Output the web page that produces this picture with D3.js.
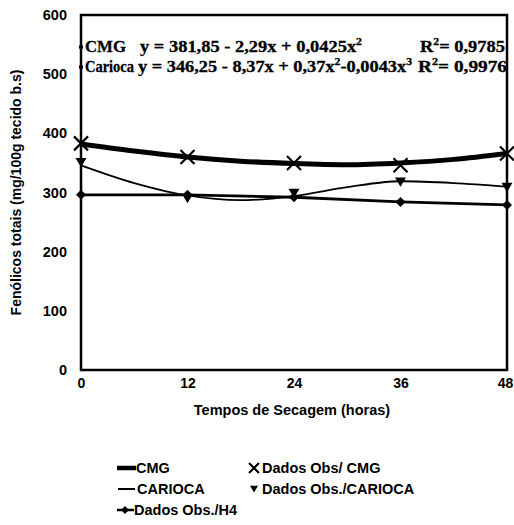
<!DOCTYPE html>
<html><head><meta charset="utf-8">
<script src="https://cdn.jsdelivr.net/npm/d3@7"></script>
<style>body{margin:0;background:#fff}svg{display:block}</style>
</head><body><svg id="c" width="514" height="525"></svg>
<script>
const xTicks = [0, 12, 24, 36, 48];
const yTicks = [0, 100, 200, 300, 400, 500, 600];
const obsCMG = [383, 360, 350, 346, 366];
const obsCarioca = [351, 290, 299, 318, 309];
const obsH4 = [296, 296, 292, 284, 279];
const fitX = [0, 6, 12, 18, 24, 30, 36, 42, 48];
const fitCMG = [382, 370, 360, 353, 349, 347, 350, 356, 366];
const fitCarioca = [346, 316, 295, 287, 294, 309, 319, 316, 310];
const labCMG = "CMG", labCarioca = "Carioca";
const eqCMG = ["y = 381,85 - 2,29x + 0,0425x", "2"];
const eqCarioca = ["y = 346,25 - 8,37x + 0,37x", "2", "-0,0043x", "3"];
const r2CMG = ["R", "2", "= 0,9785"];
const r2Carioca = ["R", "2", "= 0,9976"];
const legendItems = ["CMG", "CARIOCA", "Dados Obs./H4", "Dados Obs/ CMG", "Dados Obs./CARIOCA"];
const xTitle = "Tempos de Secagem (horas)";
const yTitle = "Fenólicos totais (mg/100g tecido b.s)";

const svg = d3.select("#c");
const L = 81, R = 507, T = 15, B = 370;
const x = d3.scaleLinear().domain([0, 48]).range([L, R]);
const y = d3.scaleLinear().domain([0, 600]).range([B, T]);
const sans = "'Liberation Sans', Arial, sans-serif";
const serif = "'Liberation Serif', 'Times New Roman', serif";

// frame
svg.append("rect").attr("x", L).attr("y", T).attr("width", R - L).attr("height", B - T)
  .attr("fill", "none").attr("stroke", "#000").attr("stroke-width", 2.5);

// axes labels
const gy = svg.append("g").attr("transform", `translate(${L},0)`)
  .call(d3.axisLeft(y).tickValues(yTicks).tickSize(0).tickPadding(14).tickFormat(d3.format("d")));
gy.select(".domain").remove();
gy.selectAll("text").attr("font-family", sans).attr("font-weight", "bold").attr("font-size", 14.5).attr("fill", "#000");
const gx = svg.append("g").attr("transform", `translate(0,${B})`)
  .call(d3.axisBottom(x).tickValues(xTicks).tickSize(0).tickPadding(8).tickFormat(d3.format("d")));
gx.select(".domain").remove();
gx.selectAll("text").attr("font-family", sans).attr("font-weight", "bold").attr("font-size", 14).attr("fill", "#000")
  .attr("dx", d => d === 48 ? -2 : 0);

svg.append("text").attr("x", 292).attr("y", 415).attr("text-anchor", "middle")
  .attr("font-family", sans).attr("font-weight", "bold").attr("font-size", 14.5).text(xTitle);
svg.append("text").attr("transform", `translate(21,${(T + B) / 2}) rotate(-90)`).attr("text-anchor", "middle")
  .attr("font-family", sans).attr("font-weight", "bold").attr("font-size", 14).text(yTitle);

// fitted lines
const line = d3.line().x((d, i) => x(fitX[i])).y(d => y(d)).curve(d3.curveMonotoneX);
svg.append("path").datum(fitCMG).attr("d", line).attr("fill", "none").attr("stroke", "#000").attr("stroke-width", 5);
svg.append("path").datum(fitCarioca).attr("d", line).attr("fill", "none").attr("stroke", "#000").attr("stroke-width", 1.8);
const lineH4 = d3.line().x((d, i) => x(xTicks[i])).y(d => y(d));
svg.append("path").datum(obsH4).attr("d", lineH4).attr("fill", "none").attr("stroke", "#000").attr("stroke-width", 2.8);

// markers
function cross(g, cx, cy, s) {
  g.append("path").attr("d", `M${cx - s},${cy - s}L${cx + s},${cy + s}M${cx - s},${cy + s}L${cx + s},${cy - s}`)
    .attr("stroke", "#000").attr("stroke-width", 2.2).attr("fill", "none");
}
function tri(g, cx, cy, s) {
  g.append("path").attr("d", `M${cx - s},${cy - s * 0.8}L${cx + s},${cy - s * 0.8}L${cx},${cy + s * 0.9}Z`).attr("fill", "#000");
}
function dia(g, cx, cy, s) {
  g.append("path").attr("d", `M${cx},${cy - s}L${cx + s},${cy}L${cx},${cy + s}L${cx - s},${cy}Z`).attr("fill", "#000");
}
const gm = svg.append("g");
obsCMG.forEach((v, i) => cross(gm, x(xTicks[i]), y(v), 7));
obsCarioca.forEach((v, i) => tri(gm, x(xTicks[i]), y(v), 5.5));
obsH4.forEach((v, i) => dia(gm, x(xTicks[i]), y(v), 5));

// equations
function seg(parts, x0, x1, yy, supIdx) {
  const t = svg.append("text").attr("x", x0).attr("y", yy).attr("font-family", serif).attr("font-weight", "bold")
    .attr("font-size", 16.5).attr("stroke", "#000").attr("stroke-width", 0.3)
    .attr("textLength", x1 - x0).attr("lengthAdjust", "spacingAndGlyphs");
  parts.forEach((p, i) => {
    const ts = t.append("tspan").text(p);
    if (supIdx.includes(i)) ts.attr("font-size", 10.5).attr("dy", -7);
    else if (supIdx.includes(i - 1)) ts.attr("dy", 7);
  });
}
seg([labCMG], 85, 126, 52, []);
seg(eqCMG, 140, 362, 52, [1]);
seg(r2CMG, 420, 505, 52, [1]);
seg([labCarioca], 85, 134, 72, []);
seg(eqCarioca, 138, 412, 72, [1, 3]);
seg(r2Carioca, 418, 507, 72, [1]);
[47, 67].forEach(v => svg.append("circle").attr("cx", L).attr("cy", v).attr("r", 2.2).attr("fill", "#000"));

// legend
const lg = svg.append("g").attr("font-family", sans).attr("font-weight", "bold").attr("font-size", 14.5);
const rows = [473, 494, 515];
lg.append("line").attr("x1", 117).attr("x2", 136).attr("y1", rows[0] - 5).attr("y2", rows[0] - 5).attr("stroke", "#000").attr("stroke-width", 4.5);
lg.append("text").attr("x", 136).attr("y", rows[0]).text(legendItems[0]);
lg.append("line").attr("x1", 118).attr("x2", 135).attr("y1", rows[1] - 5).attr("y2", rows[1] - 5).attr("stroke", "#000").attr("stroke-width", 2);
lg.append("text").attr("x", 137).attr("y", rows[1]).text(legendItems[1]);
lg.append("line").attr("x1", 117).attr("x2", 134).attr("y1", rows[2] - 5).attr("y2", rows[2] - 5).attr("stroke", "#000").attr("stroke-width", 2.5);
dia(lg, 125, rows[2] - 5, 4);
lg.append("text").attr("x", 134).attr("y", rows[2]).text(legendItems[2]);
cross(lg, 254, rows[0] - 5, 5);
lg.append("text").attr("x", 262).attr("y", rows[0]).text(legendItems[3]);
tri(lg, 254, rows[1] - 5, 4);
lg.append("text").attr("x", 262).attr("y", rows[1]).text(legendItems[4]);
</script></body></html>
